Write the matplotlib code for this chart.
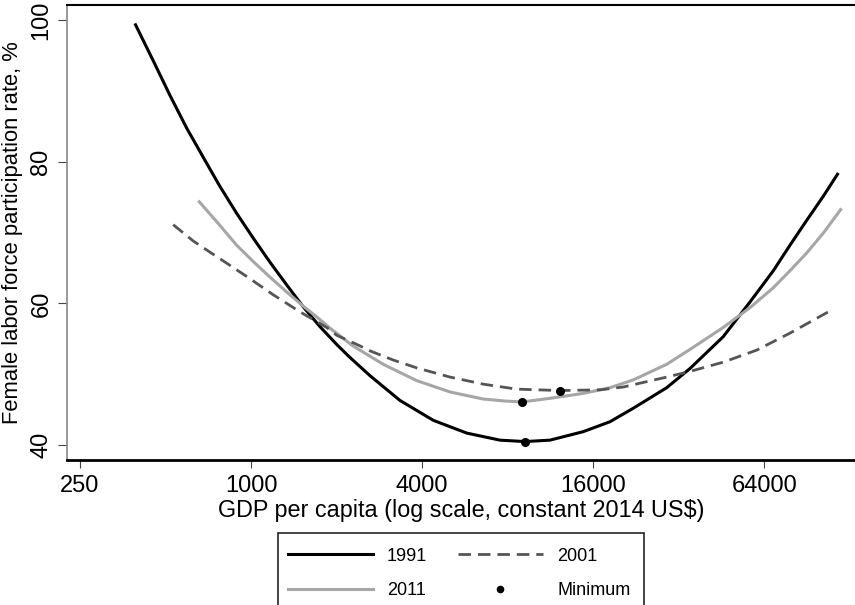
import matplotlib
matplotlib.use("Agg")
import matplotlib.pyplot as plt
from matplotlib.lines import Line2D
from matplotlib.patches import Rectangle
from matplotlib.ticker import FixedLocator, FixedFormatter, NullLocator

plt.rcParams['font.family'] = ['Liberation Sans', 'DejaVu Sans']

# ---- data ----
gdp_1991 = [390, 453, 519, 594, 679, 777, 890, 1018, 1166, 1335, 1527, 1749, 2002,
            2224, 2621, 3343, 4378, 5739, 7517, 9205, 11270, 14760, 18330, 22130,
            29020, 35040, 45890, 57010, 68850, 78800, 90200, 103200, 116600]
lfp_1991 = [99.5, 94.2, 89.3, 84.7, 80.6, 76.5, 72.7, 69.2, 65.8, 62.6, 59.5, 56.7, 54.2,
            52.4, 49.8, 46.3, 43.5, 41.7, 40.7, 40.5, 40.7, 41.9, 43.3, 45.2,
            48.1, 50.8, 55.3, 60.2, 64.6, 68.2, 71.7, 75.1, 78.4]

gdp_2001 = [532, 626, 700, 777, 965, 1198, 1487, 1846, 2002, 2417, 2621, 3167, 3827,
            5014, 6567, 8604, 12220, 16900, 20420, 29020, 35040, 45890, 60170, 78800,
            107500]
lfp_2001 = [71.1, 68.8, 67.5, 66.3, 63.8, 61.2, 58.8, 56.6, 55.5, 54.0, 53.3, 52.0, 50.9,
            49.6, 48.6, 47.9, 47.7, 47.8, 48.2, 49.6, 50.4, 51.7, 53.4, 55.8,
            58.8]

gdp_2011 = [652, 777, 890, 1018, 1166, 1335, 1527, 1749, 1896, 2283, 2920, 3827, 5014,
            6567, 7936, 9010, 11270, 14760, 18330, 22130, 29020, 35040, 45890, 57010,
            68850, 78800, 90200, 103200, 119700]
lfp_2011 = [74.5, 71.0, 68.2, 65.9, 63.7, 61.6, 59.6, 57.7, 56.5, 54.0, 51.4, 49.1, 47.5,
            46.5, 46.2, 46.1, 46.6, 47.3, 48.1, 49.2, 51.4, 53.5, 56.6, 59.4,
            62.2, 64.6, 67.1, 69.9, 73.4]

min_gdp = [9205, 12220, 9010]
min_lfp = [40.5, 47.7, 46.1]

x_ticks = [250, 1000, 4000, 16000, 64000]
x_tick_labels = ["250", "1000", "4000", "16000", "64000"]
y_ticks = [40, 60, 80, 100]
y_tick_labels = ["40", "60", "80", "100"]

series_labels = ["1991", "2001", "2011", "Minimum"]

# ---- figure ----
W, H = 855, 605
fig = plt.figure(figsize=(W / 100, H / 100), dpi=100)
ax = fig.add_axes([67/W, 1 - 460/H, 1 - 67/W, (460 - 5)/H])

c1991 = "#000000"
c2001 = "#555555"
c2011 = "#a6a6a6"

ax.plot(gdp_1991, lfp_1991, color=c1991, lw=2.2, solid_capstyle='butt', solid_joinstyle='round')
ax.plot(gdp_2011, lfp_2011, color=c2011, lw=2.2, solid_capstyle='butt', solid_joinstyle='round')
ax.plot(gdp_2001, lfp_2001, color=c2001, lw=2.0, dashes=(4.5, 2.5))
ax.plot(min_gdp, min_lfp, 'o', color='black', ms=5.5, zorder=5)

ax.set_xscale('log', base=2)
ax.set_xlim(225, 133500)
ax.set_ylim(37.9, 102.1)

ax.xaxis.set_major_locator(FixedLocator(x_ticks))
ax.xaxis.set_major_formatter(FixedFormatter(x_tick_labels))
ax.xaxis.set_minor_locator(NullLocator())
ax.yaxis.set_major_locator(FixedLocator(y_ticks))
ax.yaxis.set_major_formatter(FixedFormatter(y_tick_labels))

ax.tick_params(axis='x', direction='out', length=6, width=0.8, color='#444444',
               labelsize=17, pad=5)
ax.tick_params(axis='y', direction='out', length=6.5, width=0.8, color='#444444',
               labelsize=17, pad=4)
for lab in ax.get_yticklabels():
    lab.set_rotation(90)
    lab.set_va('center')

ax.spines['right'].set_visible(False)
ax.spines['left'].set_color('#888888')
ax.spines['left'].set_linewidth(1.2)
ax.spines['bottom'].set_color('black')
ax.spines['bottom'].set_linewidth(2.0)
ax.spines['top'].set_color('black')
ax.spines['top'].set_linewidth(1.5)

ax.set_xlabel("GDP per capita (log scale, constant 2014 US$)", fontsize=16.8, labelpad=1)
ax.set_ylabel("Female labor force participation rate, %", fontsize=15.8, labelpad=5)

handles = [
    Line2D([], [], color=c1991, lw=2.2),
    Line2D([], [], color=c2011, lw=2.2),
    Line2D([], [], color=c2001, lw=2.0, dashes=(4.5, 2.5)),
    Line2D([], [], ls='none', marker='o', color='black', ms=4.5),
]
labels = [series_labels[0], series_labels[2], series_labels[1], series_labels[3]]
leg = fig.legend(handles, labels, ncol=2, loc='upper left',
                 bbox_to_anchor=(276/W, 1 - 536/H),
                 fontsize=13, frameon=False,
                 handlelength=4.7, handletextpad=0.8,
                 columnspacing=1.7, labelspacing=0.97, borderpad=0.65,
                 borderaxespad=0)

# legend frame (runs past the bottom edge, as in the reference)
frame = Rectangle((278/W, 1 - 615/H), (644 - 278)/W, (615 - 533)/H,
                  transform=fig.transFigure, fill=False, edgecolor='#222222',
                  linewidth=1.2, clip_on=False)
fig.add_artist(frame)

fig.savefig("out.png", dpi=100)
